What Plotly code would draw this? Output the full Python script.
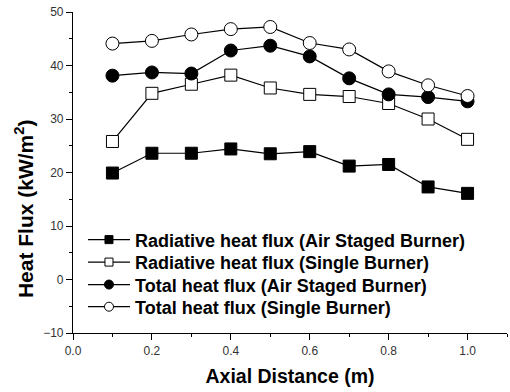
import plotly.graph_objects as go

x = [0.1, 0.2, 0.3, 0.4, 0.5, 0.6, 0.7, 0.8, 0.9, 1.0]
rad_air = [19.9, 23.6, 23.6, 24.4, 23.5, 23.9, 21.2, 21.5, 17.3, 16.1]
rad_single = [25.8, 34.8, 36.5, 38.2, 35.8, 34.6, 34.2, 32.9, 30.0, 26.2]
tot_air = [38.1, 38.7, 38.5, 42.8, 43.7, 41.7, 37.6, 34.6, 34.1, 33.3]
tot_single = [44.1, 44.6, 45.8, 46.8, 47.2, 44.2, 43.0, 38.9, 36.3, 34.3]

names = ["Radiative heat flux (Air Staged Burner)",
         "Radiative heat flux (Single Burner)",
         "Total heat flux (Air Staged Burner)",
         "Total heat flux (Single Burner)"]
series = [rad_air, rad_single, tot_air, tot_single]
symbols = ["square", "square", "circle", "circle"]
fills = ["black", "white", "black", "white"]
sizes = [12, 12, 13, 13]
legend_sizes = [8, 8, 9, 9]
legend_ids = ["legend", "legend2", "legend3", "legend4"]
legend_y = [0.290, 0.220, 0.150, 0.081]

fig = go.Figure()
for n, s, sym, fc, sz in zip(names, series, symbols, fills, sizes):
    fig.add_trace(go.Scatter(
        x=x, y=s, name=n, mode="lines+markers", showlegend=False,
        line=dict(color="black", width=1.2),
        marker=dict(symbol=sym, size=sz, color=fc, line=dict(color="black", width=1)),
    ))
# legend entries (smaller symbols, as in the reference legend)
for n, sym, fc, sz, lid in zip(names, symbols, fills, legend_sizes, legend_ids):
    fig.add_trace(go.Scatter(
        x=[None], y=[None], name=n, mode="lines+markers", legend=lid,
        line=dict(color="black", width=1.2),
        marker=dict(symbol=sym, size=sz, color=fc, line=dict(color="black", width=1)),
    ))

legend_font = dict(size=18, family="Arial, Liberation Sans, sans-serif", color="black", weight="bold")
layout_legends = {}
for lid, ly in zip(legend_ids, legend_y):
    layout_legends[lid] = dict(x=0.023, y=ly, xanchor="left", yanchor="middle", itemwidth=42,
                               bgcolor="rgba(0,0,0,0)", font=legend_font)

fig.update_layout(
    width=510, height=392,
    margin=dict(l=73, r=3, t=12, b=59),
    paper_bgcolor="white", plot_bgcolor="white",
    font=dict(family="Arial, Liberation Sans, sans-serif", color="black"),
    showlegend=True,
    xaxis=dict(range=[0, 1.1], tickvals=[0, 0.2, 0.4, 0.6, 0.8, 1.0],
               ticktext=["0.0", "0.2", "0.4", "0.6", "0.8", "1.0"],
               showgrid=False, zeroline=False, showline=True, linecolor="black", linewidth=1.2,
               ticks="outside", ticklen=6, tickcolor="black",
               minor=dict(tickvals=[0.1, 0.3, 0.5, 0.7, 0.9, 1.1], ticks="outside", ticklen=3, tickcolor="black"),
               tickfont=dict(size=12, color="#333"),
               title=dict(text="Axial Distance (m)", font=dict(size=19.5, weight="bold"), standoff=12)),
    yaxis=dict(range=[-10, 50], tickvals=[-10, 0, 10, 20, 30, 40, 50],
               showgrid=False, zeroline=False, showline=True, linecolor="black", linewidth=1.2,
               ticks="outside", ticklen=6, tickcolor="black",
               minor=dict(tickvals=[-5, 5, 15, 25, 35, 45], ticks="outside", ticklen=3, tickcolor="black"),
               tickfont=dict(size=12, color="#333")),
    annotations=[dict(text="Heat Flux (kW/m<sup>2</sup>)", xref="paper", yref="paper",
                      x=-0.113, y=0.389, xanchor="center", yanchor="middle", textangle=-90,
                      showarrow=False, font=dict(size=21, weight="bold", color="black"))],
    **layout_legends,
)

fig.write_html("out.html")
